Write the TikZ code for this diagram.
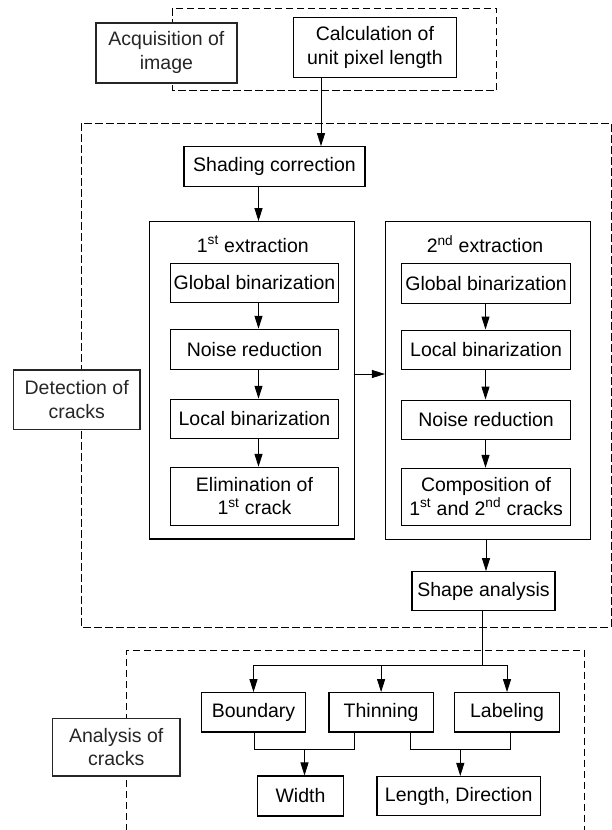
\documentclass[tikz,border=0pt]{standalone}
\usepackage{fontspec}
\setmainfont{Liberation Sans}
\usetikzlibrary{arrows.meta}
\begin{document}
\begin{tikzpicture}[x=1pt,y=-1pt,
  every node/.style={font=\fontsize{19.5}{23.5}\selectfont},
  box/.style={draw, line width=1.1pt, fill=white, inner sep=0pt, align=center},
  grp/.style={draw, line width=1.2pt, fill=white, inner sep=0pt},
  lbl/.style={draw=black!85, line width=1.6pt, fill=white, inner sep=0pt, align=center, text=black!85},
  dbox/.style={draw, line width=1pt, dash pattern=on 7.5pt off 3.5pt},
  arr/.style={line width=1pt, -{Triangle[length=13pt,width=8pt]}},
  ln/.style={line width=1pt}]
\useasboundingbox (0,0) rectangle (612,830);

% dashed group frames
\draw[dbox] (172.7,8) rectangle (496.7,90.7);
\draw[dbox] (81.7,123) rectangle (611,627.3);
\draw[dbox] (126.9,831) -- (126.9,650) -- (584.3,650) -- (584.3,831);

% group labels
\node[lbl, minimum width=140.7pt, minimum height=60pt] (acq) at (166.4,52.7) {Acquisition of\\image};
\node[lbl, minimum width=126.7pt, minimum height=59.3pt] (det) at (76.7,399.7) {Detection of\\cracks};
\node[lbl, minimum width=127.5pt, minimum height=57.7pt] (ana) at (116.2,747.2) {Analysis of\\cracks};

% top
\node[box, minimum width=163.7pt, minimum height=60pt] (calc) at (374.9,47.3) {Calculation of\\unit pixel length};
\node[box, minimum width=181pt, minimum height=39.6pt] (shad) at (274.5,166.5) {Shading correction};

% extraction groups
\node[grp, minimum width=205.4pt, minimum height=317.3pt] (ext1) at (252,380.35) {};
\node[grp, minimum width=205pt, minimum height=317.8pt] (ext2) at (488,380.6) {};
\node (t1) at (252.8,244) {1\textsuperscript{st} extraction};
\node (t2) at (485,244) {2\textsuperscript{nd} extraction};

% 1st column
\node[box, minimum width=167.6pt, minimum height=39.4pt] (g1) at (254.5,283) {Global binarization};
\node[box, minimum width=167.6pt, minimum height=40pt] (n1) at (254.5,349.3) {Noise reduction};
\node[box, minimum width=167.6pt, minimum height=39.4pt] (l1) at (254.5,419) {Local binarization};
\node[box, minimum width=167.6pt, minimum height=57.7pt] (e1) at (254.5,496.2) {Elimination of\\1\textsuperscript{st} crack};

% 2nd column
\node[box, minimum width=168.8pt, minimum height=40pt] (g2) at (486.1,283.3) {Global binarization};
\node[box, minimum width=168.8pt, minimum height=39.3pt] (l2) at (486.1,349.7) {Local binarization};
\node[box, minimum width=168.8pt, minimum height=39.3pt] (n2) at (486.1,419.7) {Noise reduction};
\node[box, minimum width=168.8pt, minimum height=56.7pt] (c2) at (486.1,496.7) {Composition of\\1\textsuperscript{st} and 2\textsuperscript{nd} cracks};

\node[box, minimum width=143pt, minimum height=39pt] (shape) at (483.5,591.2) {Shape analysis};

% analysis
\node[box, minimum width=104pt, minimum height=39.3pt] (bnd) at (253.5,712.3) {Boundary};
\node[box, minimum width=104.3pt, minimum height=39.3pt] (thin) at (381.1,712.3) {Thinning};
\node[box, minimum width=105pt, minimum height=39.3pt] (lab) at (507,712.3) {Labeling};
\node[box, minimum width=86pt, minimum height=40pt] (wid) at (300.5,796) {Width};
\node[box, minimum width=163.5pt, minimum height=39.2pt] (len) at (458.7,796.1) {Length, Direction};

% helper coordinates
\coordinate (c1) at (321,0);
\coordinate (xA) at (258.5,0);
\coordinate (xB) at (485.5,0);
\coordinate (xC) at (486,0);
\coordinate (xD) at (482.8,0);
\coordinate (yM) at (0,374);
\coordinate (yBr) at (0,665);
\coordinate (yJ) at (0,749.3);
\coordinate (xT1) at (354.4,0);
\coordinate (xT2) at (410.6,0);
\coordinate (xW) at (304.5,0);
\coordinate (xL) at (510,0);
\coordinate (xLen) at (460.3,0);
\coordinate (xBd) at (254.5,0);

% connectors
\draw[arr] (calc.south -| c1) -- (shad.north -| c1);
\draw[arr] (shad.south -| xA) -- (ext1.north -| xA);
\draw[arr] (g1.south -| xA) -- (n1.north -| xA);
\draw[arr] (n1.south -| xA) -- (l1.north -| xA);
\draw[arr] (l1.south -| xA) -- (e1.north -| xA);
\draw[arr] (g2.south -| xB) -- (l2.north -| xB);
\draw[arr] (l2.south -| xB) -- (n2.north -| xB);
\draw[arr] (n2.south -| xB) -- (c2.north -| xB);
\draw[arr] (ext1.east |- yM) -- (ext2.west |- yM);
\draw[arr] (ext2.south -| xC) -- (shape.north -| xC);
\draw[ln] (shape.south -| xD) -- (xD |- yBr);
\draw[ln] (bnd.north |- yBr) -- (lab.north |- yBr);
\draw[arr] (bnd.north |- yBr) -- (bnd.north);
\draw[arr] (thin.north |- yBr) -- (thin.north);
\draw[arr] (lab.north |- yBr) -- (lab.north);
\draw[ln] (bnd.south -| xBd) -- (xBd |- yJ) -- (xT1 |- yJ) -- (thin.south -| xT1);
\draw[ln] (thin.south -| xT2) -- (xT2 |- yJ) -- (xL |- yJ) -- (lab.south -| xL);
\draw[arr] (xW |- yJ) -- (wid.north -| xW);
\draw[arr] (xLen |- yJ) -- (len.north -| xLen);
\end{tikzpicture}
\end{document}
